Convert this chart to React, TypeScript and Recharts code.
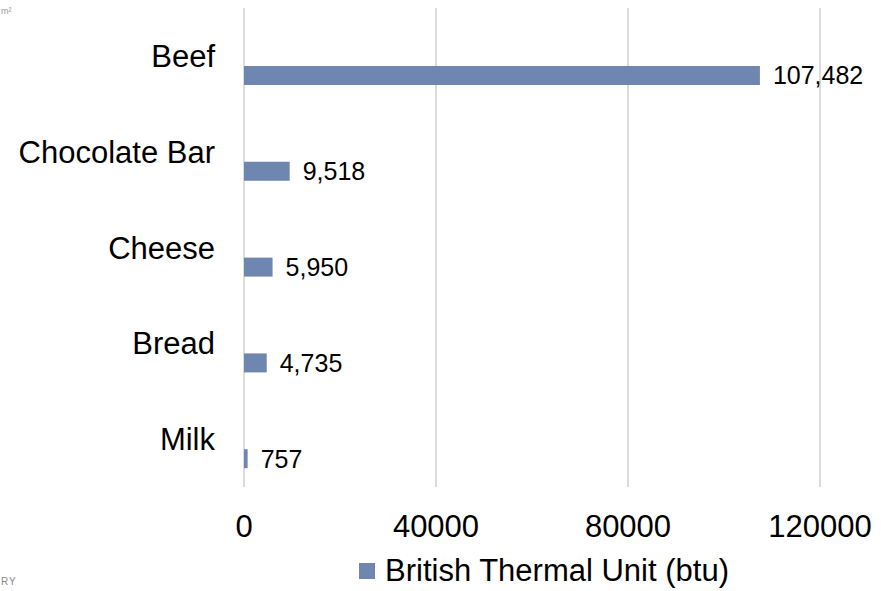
import React from 'react'
import {
  BarChart,
  Bar,
  XAxis,
  YAxis,
  CartesianGrid,
  Legend,
  LabelList,
} from 'recharts'

const foods = ['Beef', 'Chocolate Bar', 'Cheese', 'Bread', 'Milk']
const btu = [107482, 9518, 5950, 4735, 757]
const xTicks = [0, 40000, 80000, 120000]

const seriesName = 'British Thermal Unit (btu)'
const barColor = '#6e86b0'
const font = '"Liberation Sans", Arial, sans-serif'

const data = foods.map((name, i) => ({ name, btu: btu[i] }))

function LegendBox() {
  return (
    <div
      style={{
        display: 'flex',
        alignItems: 'center',
        height: 40,
        fontFamily: font,
        fontSize: 31,
        color: '#000',
      }}
    >
      <span
        style={{
          display: 'inline-block',
          width: 16,
          height: 16,
          background: barColor,
          marginRight: 10,
        }}
      />
      <span>{seriesName}</span>
    </div>
  )
}

export default function App() {
  return (
    <div
      style={{
        position: 'absolute',
        left: 0,
        top: 0,
        width: 881,
        height: 591,
        overflow: 'hidden',
        background: '#fff',
      }}
    >
      {/* small grey marks in the corners */}
      <div
        style={{
          position: 'absolute',
          left: 1,
          top: 6,
          fontFamily: font,
          fontSize: 9,
          color: '#9a9a9a',
        }}
      >
        m²
      </div>
      <div
        style={{
          position: 'absolute',
          left: 1,
          top: 576,
          fontFamily: font,
          fontSize: 10,
          letterSpacing: 1,
          color: '#8a8a8a',
        }}
      >
        RY
      </div>

      <BarChart
        width={881}
        height={591}
        data={data}
        layout="vertical"
        barGap={21}
        margin={{ top: 8, right: 61, bottom: 0, left: 0 }}
      >
        <CartesianGrid horizontal={false} stroke="#dcdcdc" strokeWidth={2} />
        <XAxis
          type="number"
          domain={[0, 120000]}
          ticks={xTicks}
          interval={0}
          height={64}
          axisLine={false}
          tickLine={false}
          tickSize={0}
          tickMargin={28}
          tick={{ fill: '#000', fontSize: 31, fontFamily: font }}
        />
        <YAxis
          type="category"
          dataKey="name"
          width={244}
          axisLine={false}
          tickLine={false}
          tickSize={0}
          tickMargin={29}
          interval={0}
          tick={{ fill: '#000', fontSize: 31, fontFamily: font }}
        />
        {/* empty slot so the real bar sits in the lower half of each band */}
        <Bar dataKey="slot" barSize={19} legendType="none" isAnimationActive={false} />
        <Bar
          dataKey="btu"
          name={seriesName}
          fill={barColor}
          barSize={19}
          isAnimationActive={false}
        >
          <LabelList
            dataKey="btu"
            position="right"
            offset={13}
            formatter={(v: number) => v.toLocaleString('en-US')}
            style={{ fill: '#000', fontSize: 25, fontFamily: font }}
          />
        </Bar>
        <Legend
          verticalAlign="bottom"
          align="left"
          wrapperStyle={{ left: 359, bottom: 0, width: 'auto' }}
          content={() => <LegendBox />}
        />
      </BarChart>
    </div>
  )
}
